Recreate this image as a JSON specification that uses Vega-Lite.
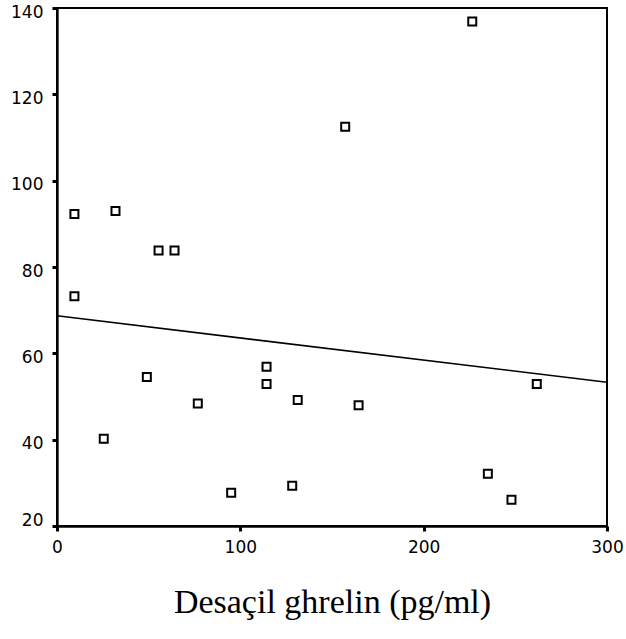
{
  "$schema": "https://vega.github.io/schema/vega-lite/v6.json",
  "width": 550,
  "height": 518,
  "autosize": "none",
  "padding": {"left": 57, "top": 8, "right": 19, "bottom": 113},
  "background": "white",
  "config": {
    "view": {"stroke": "black", "strokeWidth": 2},
    "axis": {
      "domainColor": "black",
      "domainWidth": 2.3,
      "tickColor": "black",
      "tickSize": 5,
      "tickWidth": 3,
      "grid": false,
      "labelFlush": false,
      "labelFont": "DejaVu Sans",
      "labelFontSize": 17,
      "labelColor": "black"
    }
  },
  "datasets": {
    "pts": [
      {"ghrelin": 9.5, "value": 92.3},
      {"ghrelin": 9.5, "value": 73.2},
      {"ghrelin": 31.9, "value": 93.0},
      {"ghrelin": 55.4, "value": 83.8},
      {"ghrelin": 64.1, "value": 83.8},
      {"ghrelin": 49.0, "value": 54.5},
      {"ghrelin": 25.5, "value": 40.2},
      {"ghrelin": 76.8, "value": 48.4},
      {"ghrelin": 95.0, "value": 27.7},
      {"ghrelin": 114.3, "value": 56.9},
      {"ghrelin": 114.3, "value": 52.9},
      {"ghrelin": 131.3, "value": 49.2},
      {"ghrelin": 128.3, "value": 29.3},
      {"ghrelin": 157.2, "value": 112.5},
      {"ghrelin": 164.5, "value": 48.0},
      {"ghrelin": 226.5, "value": 136.9},
      {"ghrelin": 235.0, "value": 32.1},
      {"ghrelin": 247.9, "value": 26.1},
      {"ghrelin": 261.7, "value": 52.9}
    ],
    "fit": [
      {"ghrelin": 0, "value": 68.7},
      {"ghrelin": 300, "value": 53.3}
    ]
  },
  "layer": [
    {
      "data": {"name": "fit"},
      "mark": {"type": "line", "color": "black", "strokeWidth": 1.6, "clip": true},
      "encoding": {
        "x": {"field": "ghrelin", "type": "quantitative", "scale": {"domain": [0, 300], "nice": false, "zero": false}},
        "y": {"field": "value", "type": "quantitative", "scale": {"domain": [20, 140], "nice": false, "zero": false}}
      }
    },
    {
      "data": {"name": "pts"},
      "mark": {"type": "point", "shape": "square", "filled": false, "color": "black", "strokeWidth": 2, "size": 64, "opacity": 1},
      "encoding": {
        "x": {
          "field": "ghrelin",
          "type": "quantitative",
          "scale": {"domain": [0, 300], "nice": false, "zero": false},
          "axis": {
            "values": [0, 100, 200, 300],
            "labelPadding": 8,
            "title": "Desaçil ghrelin (pg/ml)",
            "titleFont": "Liberation Serif",
            "titleFontSize": 34,
            "titleFontWeight": "normal",
            "titleColor": "black",
            "titlePadding": 30
          }
        },
        "y": {
          "field": "value",
          "type": "quantitative",
          "scale": {"domain": [20, 140], "nice": false, "zero": false},
          "axis": {
            "values": [20, 40, 60, 80, 100, 120, 140],
            "labelPadding": 9,
            "labelOffset": {"condition": {"test": "datum.value == 20", "value": -6}, "value": 4},
            "title": null
          }
        }
      }
    }
  ]
}
